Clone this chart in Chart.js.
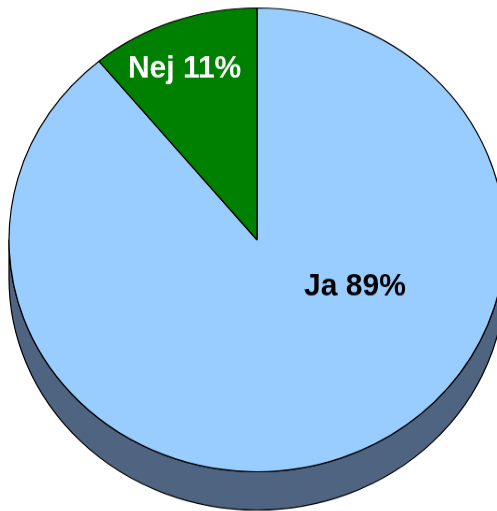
<!DOCTYPE html>
<html>
<head>
<meta charset="utf-8">
<script src="https://cdn.jsdelivr.net/npm/chart.js@4/dist/chart.umd.min.js"></script>
<style>
  html, body { margin: 0; padding: 0; background: #fff; overflow: hidden; }
  /* the pie is tilted: squash the round Chart.js pie into an ellipse */
  #wrap { width: 497px; height: 547px; transform: scaleY(0.935); transform-origin: 0 0; }
</style>
</head>
<body>
<div id="wrap"><canvas id="pie" width="497" height="547"></canvas></div>
<script>
const categories = ['Ja', 'Nej'];
const shares = [89, 11];
const topColors = ['#99ccff', '#008000'];
const sideColors = ['#4f6481', '#004000'];

const SQUASH = 0.935;
const DEPTH = 41;
// label anchor, as a fraction of the radius from the centre
const labelAt = [[0.395, 0.201], [-0.292, -0.737]];
const labelColors = ['#000000', '#ffffff'];

// side wall of the 3D pie, drawn under the slices
const depthPlugin = {
  id: 'depth',
  beforeDatasetsDraw(chart) {
    const ctx = chart.ctx;
    const arcs = chart.getDatasetMeta(0).data;
    ctx.save();
    arcs.forEach((arc, i) => {
      const { x, y, startAngle, endAngle, outerRadius: r } = arc.getProps(['x', 'y', 'startAngle', 'endAngle', 'outerRadius'], true);
      // only the front half (0..PI) of each slice shows a wall
      [0, -2 * Math.PI].forEach(shift => {
        const a0 = Math.max(startAngle + shift, 0);
        const a1 = Math.min(endAngle + shift, Math.PI);
        if (a1 <= a0) return;
        ctx.beginPath();
        ctx.arc(x, y, r, a0, a1);
        ctx.lineTo(x + r * Math.cos(a1), y + r * Math.sin(a1) + DEPTH);
        ctx.arc(x, y + DEPTH, r, a1, a0, true);
        ctx.closePath();
        ctx.fillStyle = sideColors[i];
        ctx.fill();
        ctx.lineWidth = 1.2;
        ctx.strokeStyle = '#000';
        ctx.stroke();
      });
    });
    ctx.restore();
  }
};

const labelPlugin = {
  id: 'sliceLabels',
  afterDatasetsDraw(chart) {
    const ctx = chart.ctx;
    const arcs = chart.getDatasetMeta(0).data;
    ctx.save();
    ctx.font = 'bold 30px "Liberation Sans", Arial, sans-serif';
    ctx.textAlign = 'center';
    ctx.textBaseline = 'middle';
    arcs.forEach((arc, i) => {
      const r = arc.outerRadius;
      ctx.save();
      ctx.translate(arc.x + labelAt[i][0] * r, arc.y + labelAt[i][1] * r);
      ctx.scale(1, 1.06 / SQUASH);
      ctx.fillStyle = labelColors[i];
      ctx.fillText(categories[i] + ' ' + shares[i] + '%', 0, 0);
      ctx.restore();
    });
    ctx.restore();
  }
};

new Chart(document.getElementById('pie'), {
  type: 'pie',
  data: {
    labels: categories,
    datasets: [{
      data: shares,
      backgroundColor: topColors,
      borderColor: '#000',
      borderWidth: 1.2,
      radius: 248,
      clip: false
    }]
  },
  options: {
    responsive: false,
    animation: false,
    devicePixelRatio: 1,
    layout: { padding: { left: 17, top: 0, right: 0, bottom: 34 } },
    plugins: {
      legend: { display: false },
      tooltip: { enabled: false }
    }
  },
  plugins: [depthPlugin, labelPlugin]
});
</script>
</body>
</html>
